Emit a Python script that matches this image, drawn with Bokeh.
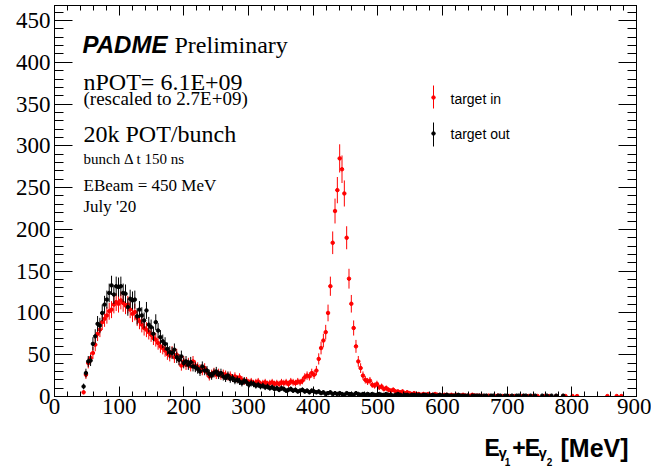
import numpy as np
from bokeh.plotting import figure
from bokeh.layouts import column
from bokeh.models import Range1d, LinearAxis, Label, FixedTicker, ColumnDataSource, CustomJSTickFormatter
from bokeh.core.properties import value
from bokeh.embed import file_html
from bokeh.resources import INLINE

# ---------------- data ----------------
BIN_WIDTH = 3.6          # MeV
FIRST_BIN_CENTER = 45.0  # MeV, centre of the first filled bin

# target in (red), one value per 3.6 MeV bin starting at 45.0 MeV
red_counts = [
    5, 26, 40, 46, 52, 62, 75, 80, 89, 93,
    97, 102, 104, 110, 113, 111, 115, 112, 109, 110,
    104, 99, 101, 94, 90, 86, 82, 80, 77, 74,
    70, 68, 64, 60, 58, 55, 51, 49, 53, 47,
    50, 44, 37, 42, 38, 40, 36, 42, 37, 35,
    33, 31, 34, 29, 24, 27, 29, 26, 28, 25,
    27, 26, 24, 25, 22, 24, 21, 23, 20, 18,
    19, 17, 18, 16, 17, 18, 15, 16, 17, 15,
    16, 17, 15, 16, 15, 17, 16, 17, 15, 18,
    17, 16, 18, 17, 19, 23, 25, 24, 28, 26,
    31, 45, 58, 67, 77, 100, 132, 184, 222, 247,
    285, 272, 243, 190, 141, 111, 82, 60, 42, 34,
    25, 20, 18, 19, 14, 13, 15, 11, 12, 9,
    10, 8, 7, 8, 6, 6, 5, 6, 4, 5,
    4, 3, 4, 3, 3, 2, 3, 2, 3, 2,
    2, 3, 2, 2, 1, 2, 2, 1, 2, 1,
    2, 1, 1, 2, 1, 1, 1, 2, 1, 1,
    1, 1, 0, 0.5, 1, 0.5, 0, 0.5, 1, 0,
    0.5, 0, 0.5, 0.5, 0, 0.5, 0, 0, 0.5, 0.5,
    0, 0.5, 0, 0.5, 0, 0.5, 0, 0, 0.5, 0,
    0.5, 0, 0, 0.5, 0, 0, 0.5, 0.5, 0, 0,
    0.5, 0, 0.5, 0, 0, 0, 0, 0, 0, 0,
    0, 0, 0, 0, 0, 0.5, 0, 0, 0, 0.5,
    0, 0.5, 0, 0, 0, 0, 0, 0,
]

# target out (black), same binning
black_counts = [
    12, 28, 42, 43, 63, 72, 87, 85, 100, 110,
    116, 124, 133, 122, 132, 131, 132, 124, 123, 107,
    117, 115, 116, 96, 104, 97, 91, 103, 86, 83,
    75, 89, 79, 71, 66, 63, 57, 53, 52, 56,
    47, 44, 48, 40, 42, 38, 41, 36, 35, 33,
    30, 36, 31, 31, 27, 25, 28, 30, 26, 28,
    24, 22, 25, 21, 22, 19, 20, 18, 16, 19,
    17, 14, 16, 15, 13, 14, 12, 13, 11, 12,
    10, 11, 9, 10, 8, 10, 9, 7, 8, 9,
    7, 8, 6, 7, 8, 6, 7, 5, 7, 6,
    5, 6, 4, 5, 3, 4, 5, 3, 4, 3,
    4, 3, 2, 4, 3, 3, 2, 4, 3, 2,
    3, 2, 3, 2, 3, 2, 2, 3, 2, 2,
    3, 2, 2, 1, 2, 3, 2, 1, 2, 2,
    1, 2, 2, 1, 2, 1, 2, 2, 1, 1,
    2, 1, 1, 2, 1, 1, 2, 1, 1, 1,
    1, 2, 1, 1, 1, 1, 0, 1, 1, 1,
    1, 0, 1, 1, 0, 1, 1, 0, 1, 1,
    0, 1, 1, 0, 1, 0, 1, 1, 0, 1,
    1, 0, 1, 0, 1, 0, 0, 1, 0, 1,
    0, 1, 0, 1, 0, 0, 1, 0, 0, 0,
]

x_major_ticks = [0, 100, 200, 300, 400, 500, 600, 700, 800, 900]
x_minor_ticks = list(range(0, 901, 20))
y_major_ticks = [0, 50, 100, 150, 200, 250, 300, 350, 400, 450]
y_minor_ticks = list(range(0, 461, 10))

info_lines = ["nPOT= 6.1E+09", "(rescaled to 2.7E+09)", "20k POT/bunch",
              "bunch \u0394 t 150 ns", "EBeam = 450 MeV", "July '20"]
legend_labels = ["target in", "target out"]
# x-axis title  E_{gamma_1}+E_{gamma_2} [MeV], split into pieces
title_main = ["E", "+", "E"]
title_unit = ["[MeV]"]
title_sub = ["\u03b3", "\u03b3"]
title_subsub = ["1", "2"]

RED = "#ff0000"
BLACK = "#000000"

# ---------------- layout ----------------
W, H = 651, 476
TITLE_H = 50                 # strip below the plot that carries the axis title
H1 = H - TITLE_H
LEFT, RIGHT, TOP = 54, 15, 5
FRAME_BOTTOM = 396
BOTTOM = H1 - FRAME_BOTTOM
X_MAX, Y_MAX = 900, 468
FRAME_W = W - LEFT - RIGHT
FRAME_H = FRAME_BOTTOM - TOP

p = figure(width=W, height=H1, x_range=Range1d(0, X_MAX), y_range=Range1d(0, Y_MAX),
           output_backend="svg", toolbar_location=None,
           min_border_left=LEFT, min_border_right=RIGHT,
           min_border_top=TOP, min_border_bottom=BOTTOM)
p.grid.visible = False
p.outline_line_color = BLACK
p.background_fill_color = "white"
p.border_fill_color = "white"


def style_axis(ax, major_in, minor_in, ticks, minor, labels=True):
    ax.ticker = FixedTicker(ticks=ticks, minor_ticks=minor)
    ax.major_tick_in = major_in
    ax.major_tick_out = 0
    ax.minor_tick_in = minor_in
    ax.minor_tick_out = 0
    ax.axis_line_color = BLACK
    ax.major_tick_line_color = BLACK
    ax.minor_tick_line_color = BLACK
    ax.major_label_text_font = "Liberation Serif"
    ax.major_label_text_font_size = "23px"
    ax.major_label_text_color = BLACK
    if not labels:
        ax.formatter = CustomJSTickFormatter(code="return ''")
        ax.major_label_standoff = 0


style_axis(p.xaxis[0], 10, 5, x_major_ticks, x_minor_ticks)
p.xaxis[0].major_label_standoff = 2
style_axis(p.yaxis[0], 18, 9, y_major_ticks, y_minor_ticks)
p.yaxis[0].major_label_standoff = 4

top_ax = LinearAxis()
style_axis(top_ax, 10, 5, x_major_ticks, x_minor_ticks, labels=False)
p.add_layout(top_ax, "above")
right_ax = LinearAxis()
style_axis(right_ax, 18, 9, y_major_ticks, y_minor_ticks, labels=False)
p.add_layout(right_ax, "right")


def hist_source(counts):
    c = np.array(counts, dtype=float)
    x = FIRST_BIN_CENTER + BIN_WIDTH * np.arange(len(c))
    m = c > 0
    x, c = x[m], c[m]
    e = np.sqrt(c)
    return ColumnDataSource(dict(x=x, y=c, lo=c - e, hi=c + e,
                                 xl=x - BIN_WIDTH / 2, xr=x + BIN_WIDTH / 2))


for counts, col in [(red_counts, RED), (black_counts, BLACK)]:
    src = hist_source(counts)
    p.segment(x0="x", y0="lo", x1="x", y1="hi", source=src, line_color=col, line_width=1)
    p.segment(x0="xl", y0="y", x1="xr", y1="y", source=src, line_color=col, line_width=1)
    p.scatter(x="x", y="y", source=src, marker="circle", size=3.5,
              fill_color=col, line_color=col)


def px_x(px):
    return (px - LEFT) / FRAME_W * X_MAX


def px_y(py):
    return (FRAME_BOTTOM - py) / FRAME_H * Y_MAX


# legend markers
leg_src = ColumnDataSource(dict(
    x=[px_x(433), px_x(433)],
    y=[px_y(97), px_y(133)],
    y0=[px_y(85), px_y(122)],
    y1=[px_y(108), px_y(146)],
    c=[RED, BLACK]))
p.segment(x0="x", y0="y0", x1="x", y1="y1", source=leg_src, line_color="c", line_width=1)
p.scatter(x="x", y="y", source=leg_src, marker="circle", size=3.5, fill_color="c", line_color="c")


def add_text(txt, cx, cy, size, font="Liberation Serif", style="normal", baseline="alphabetic"):
    p.add_layout(Label(x=cx - LEFT, y=FRAME_BOTTOM - cy, x_units="screen", y_units="screen",
                       text=txt, text_font=font, text_font_size=f"{size}px",
                       text_font_style=style, text_color=BLACK, text_baseline=baseline))


# header texts
add_text("PADME", 82, 44, 24, font="Liberation Sans", style="bold italic")
add_text("Preliminary", 174, 44, 24)
add_text(info_lines[0], 83, 81, 24)
add_text(info_lines[1], 83, 98, 19)
add_text(info_lines[2], 83, 133, 24)
add_text(info_lines[3], 83, 158, 15)
add_text(info_lines[4], 83, 185, 17)
add_text(info_lines[5], 83, 206, 17)

# legend texts
add_text(legend_labels[0], 450, 98, 14, font="Liberation Sans", baseline="middle")
add_text(legend_labels[1], 450, 133, 14, font="Liberation Sans", baseline="middle")

# ---------------- axis-title strip ----------------
t = figure(width=W, height=TITLE_H, x_range=Range1d(0, W), y_range=Range1d(H, H1),
           output_backend="svg", toolbar_location=None,
           x_axis_type=None, y_axis_type=None,
           min_border_left=0, min_border_right=0, min_border_top=0, min_border_bottom=0)
t.grid.visible = False
t.outline_line_color = None
t.background_fill_color = "white"
t.border_fill_color = "white"

common = dict(text_font=value("Liberation Sans"), text_font_style="bold",
              text_color=BLACK, text_baseline="alphabetic", text_align="left")
SHIFT = 8
t.text(x=[481, 512, 526], y=[455 - SHIFT] * 3, text=title_main, text_font_size="23px", **common)
t.text(x=[566], y=[455 - SHIFT], text=title_unit, text_font_size="25px", **common)
t.text(x=[496.5, 541.5], y=[460 - SHIFT] * 2, text=title_sub, text_font_size="15px", **common)
t.text(x=[503.5, 550.5], y=[469 - SHIFT] * 2, text=title_subsub, text_font_size="10px", **common)

layout = column(p, t, spacing=0)
open("out.html", "w").write(file_html(layout, INLINE))
